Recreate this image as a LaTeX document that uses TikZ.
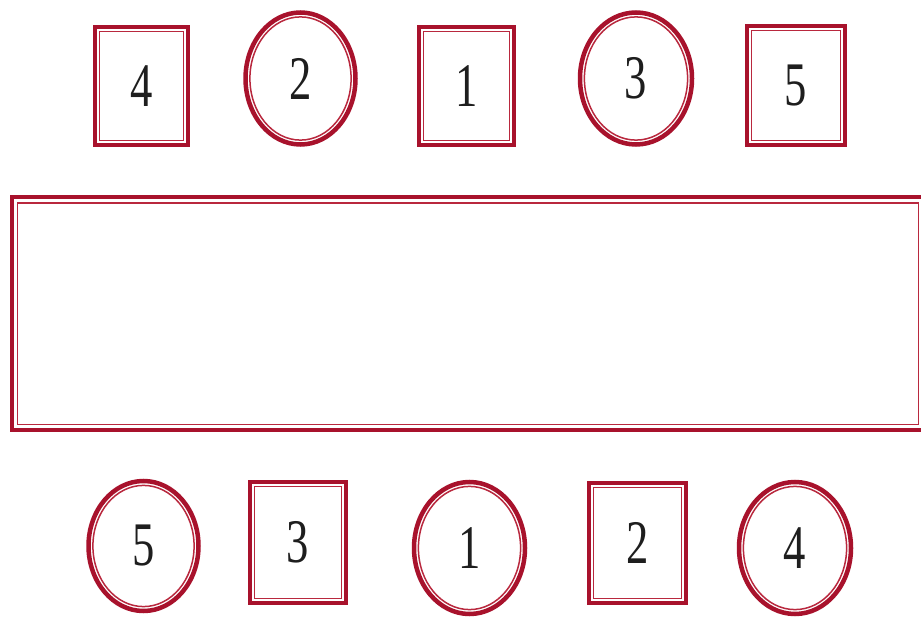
\documentclass[tikz,border=0pt]{standalone}
\usepackage{fontspec}
\setmainfont{Liberation Serif}
\usetikzlibrary{shapes.geometric}
\definecolor{seatred}{RGB}{168,18,44}
\definecolor{seatinner}{RGB}{185,40,62}
\definecolor{digit}{RGB}{30,30,30}
\newcommand{\seatnum}[1]{\scalebox{0.72}[1]{\fontsize{62}{62}\selectfont #1}}
\tikzset{
  sqbox/.style={draw=seatred, line width=4.5pt, rectangle, inner sep=0pt, outer sep=0pt, text=digit, minimum width=93pt, minimum height=118pt},
  elbox/.style={draw=seatred, line width=4.5pt, ellipse, inner sep=0pt, outer sep=0pt, text=digit, minimum width=110pt, minimum height=132pt},
  tablebox/.style={draw=seatred, line width=4.5pt, rectangle, inner sep=0pt, outer sep=0pt},
  innerline/.style={draw=seatinner, line width=1.5pt}
}
\begin{document}
\begin{tikzpicture}[x=1pt,y=-1pt]
\clip (0,0) rectangle (921,620);
\fill[white] (0,0) rectangle (921,620);
% table
\node[tablebox, minimum width=912pt, minimum height=233pt] (table) at (468,313.5) {};
\draw[innerline] ([shift={(5.5pt,-6pt)}]table.north west) rectangle ([shift={(-5.5pt,5.5pt)}]table.south east);
% top row
\node[sqbox] (t4) at (141.5,86) {\seatnum{4}};
\node[elbox] (t2) at (300.5,78.5) {\seatnum{2}};
\node[sqbox, minimum width=95pt] (t1) at (466.5,86) {\seatnum{1}};
\node[elbox, minimum width=112pt] (t3) at (636,78.5) {\seatnum{3}};
\node[sqbox, minimum width=98pt, minimum height=119pt] (t5) at (796,85.5) {\seatnum{5}};
% bottom row
\node[elbox, minimum height=130pt] (b5) at (143.5,546) {\seatnum{5}};
\node[sqbox, minimum width=96pt, minimum height=121pt] (b3) at (298,542.5) {\seatnum{3}};
\node[elbox, minimum width=111pt, minimum height=132pt] (b1) at (469.5,548) {\seatnum{1}};
\node[sqbox, minimum width=97pt, minimum height=120pt] (b2) at (637.5,543) {\seatnum{2}};
\node[elbox, minimum width=112pt, minimum height=132pt] (b4) at (795,548) {\seatnum{4}};
% inner lines of squares
\foreach \n in {t4,t1,t5,b3,b2}{
  \draw[innerline] ([shift={(4.6pt,-4.6pt)}]\n.north west) rectangle ([shift={(-4.6pt,4.6pt)}]\n.south east);
}
% inner lines of ellipses
\foreach \n/\rx/\ry in {t2/50.6/61.6, t3/51.6/61.6, b5/50.6/60.6, b1/51.1/61.6, b4/51.6/61.6}{
  \draw[innerline] (\n.center) ellipse [x radius=\rx pt, y radius=\ry pt];
}
\end{tikzpicture}
\end{document}
